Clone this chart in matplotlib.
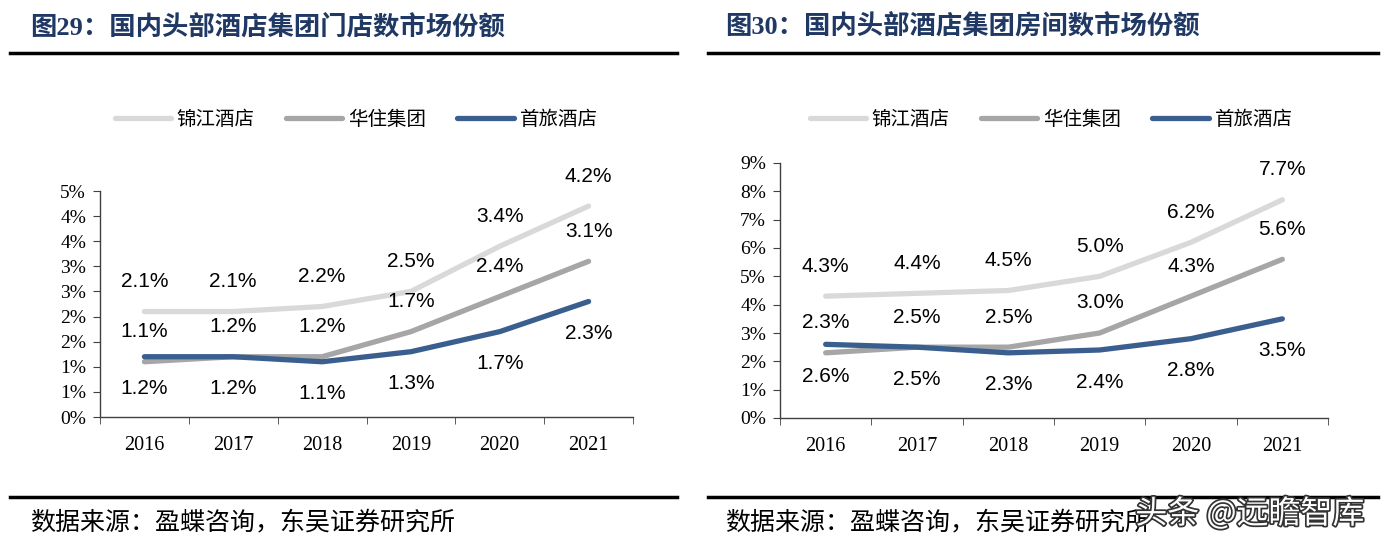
import math
import matplotlib
matplotlib.use('Agg')
import matplotlib.pyplot as plt
from matplotlib.lines import Line2D
from matplotlib.ticker import FuncFormatter, MultipleLocator
import matplotlib.patheffects as pe

plt.rcParams['font.family'] = ['Liberation Serif', 'Noto Sans CJK SC', 'DejaVu Sans']

# data
years = ['2016', '2017', '2018', '2019', '2020', '2021']
series_names = ['锦江酒店', '华住集团', '首旅酒店']

store_jinjiang = [2.1, 2.1, 2.2, 2.5, 3.4, 4.2]
store_huazhu = [1.1, 1.2, 1.2, 1.7, 2.4, 3.1]
store_shoulv = [1.2, 1.2, 1.1, 1.3, 1.7, 2.3]

room_jinjiang = [4.3, 4.4, 4.5, 5.0, 6.2, 7.7]
room_huazhu = [2.3, 2.5, 2.5, 3.0, 4.3, 5.6]
room_shoulv = [2.6, 2.5, 2.3, 2.4, 2.8, 3.5]

title_left = '图29：国内头部酒店集团门店数市场份额'
title_right = '图30：国内头部酒店集团房间数市场份额'
source_text = '数据来源：盈蝶咨询，东吴证券研究所'

colors = ['#D9D9D9', '#A6A6A6', '#3A5F8F']
label_offsets = [30, 30, -32]   # pixels above (+) / below (-) the line
navy = '#1F3864'

W, H = 1392, 544
fig = plt.figure(figsize=(W / 100, H / 100), dpi=100)


def fx(px):
    return px / W


def fy(py):
    return 1 - py / H


def pct_fmt(v, pos):
    # excel style rounding, 0.5 goes up
    return f'{math.floor(v + 0.5 + 1e-9)}%'


def draw_panel(box, ymax, ystep, data, title, tx, line_x0, line_x1, legend_cx):
    left, right, top, bottom = box
    ax = fig.add_axes([fx(left), fy(bottom), fx(right - left), fy(top) - fy(bottom)])
    x = list(range(len(years)))
    for vals, col, off in zip(data, colors, label_offsets):
        ax.plot(x, vals, color=col, lw=3.8, solid_capstyle='round', solid_joinstyle='round')
        for xi, v in zip(x, vals):
            ax.annotate(f'{v:.1f}%', (xi, v), xytext=(0, off), textcoords='offset pixels',
                        ha='center', va='center', fontsize=15, family='Liberation Sans',
                        annotation_clip=False)
    ax.set_xlim(-0.5, len(years) - 0.5)
    ax.set_ylim(0, ymax)
    ax.yaxis.set_major_locator(MultipleLocator(ystep))
    ax.yaxis.set_major_formatter(FuncFormatter(pct_fmt))
    ax.set_xticks(x)
    ax.set_xticklabels(years)
    ax.set_xticks([i + 0.5 for i in range(-1, len(years))], minor=True)
    ax.tick_params(axis='x', which='major', length=0, pad=14, labelsize=14.5)
    ax.tick_params(axis='x', which='minor', length=5, direction='out', color='#404040')
    ax.tick_params(axis='y', length=5, direction='out', color='#404040', labelsize=14, pad=5)
    for s in ['top', 'right']:
        ax.spines[s].set_visible(False)
    for s in ['left', 'bottom']:
        ax.spines[s].set_color('#404040')
        ax.spines[s].set_linewidth(1.0)
    ax.patch.set_alpha(0)

    # header and footer
    fig.text(fx(tx), fy(27), title, fontsize=19, fontweight='bold', color=navy,
             ha='left', va='center')
    fig.add_artist(Line2D([fx(line_x0), fx(line_x1)], [fy(53), fy(53)], color='black', lw=2.5))
    fig.add_artist(Line2D([fx(line_x0), fx(line_x1)], [fy(497), fy(497)], color='black', lw=2.5))
    fig.text(fx(tx), fy(523), source_text, fontsize=18, ha='left', va='center')

    handles = [Line2D([], [], color=c, lw=3.8, solid_capstyle='round') for c in colors]
    fig.legend(handles, series_names, loc='center', bbox_to_anchor=(fx(legend_cx), fy(120)),
               ncol=3, frameon=False, fontsize=14, handlelength=2.9, handletextpad=0.3,
               columnspacing=1.6)
    return ax


draw_panel((100, 633, 191, 417), 4.5, 0.5,
           [store_jinjiang, store_huazhu, store_shoulv], title_left, 30, 10, 677, 356)
draw_panel((780, 1328, 163, 418), 9, 1,
           [room_jinjiang, room_huazhu, room_shoulv], title_right, 725, 708, 1378, 1051)

# watermark
fig.text(fx(1250), fy(514), '头条 @远瞻智库', fontsize=23, color='white', ha='center', va='center',
         family=['Noto Sans CJK SC', 'DejaVu Sans'],
         path_effects=[pe.withStroke(linewidth=2.5, foreground='#333333')])

fig.savefig('out.png', dpi=100)
